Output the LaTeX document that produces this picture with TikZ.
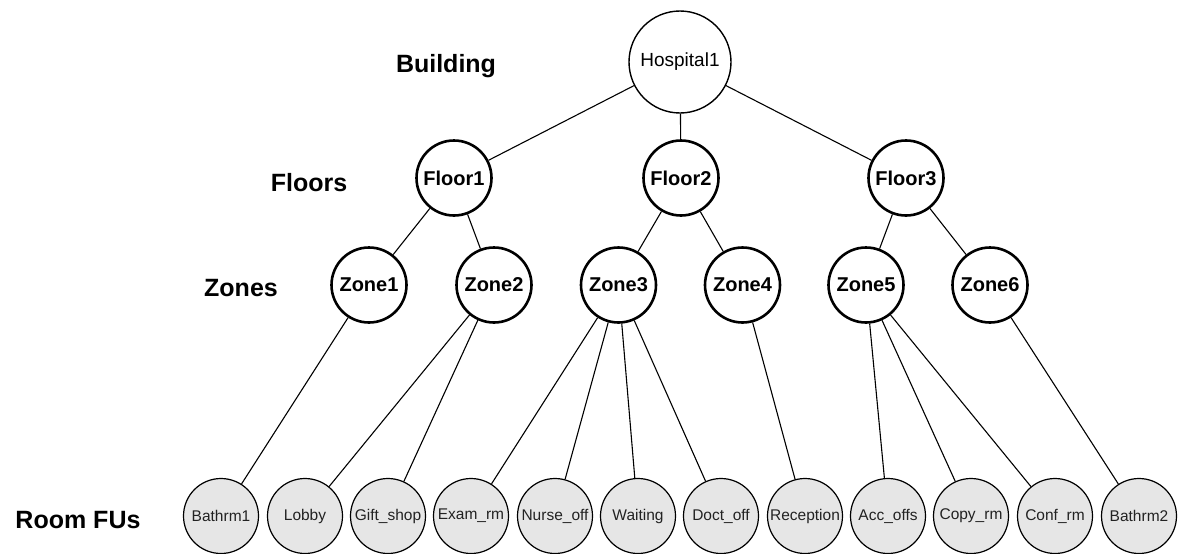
\documentclass[tikz,border=0pt]{standalone}
\usepackage{fontspec}
\setmainfont{Liberation Sans}
\definecolor{roomfill}{HTML}{E6E6E6}
\definecolor{roomtext}{HTML}{222222}
\begin{document}
\begin{tikzpicture}[x=1pt,y=-1pt,
  root/.style={circle,draw,line width=1.4pt,minimum size=102pt,inner sep=0pt,
    font=\fontsize{19}{22}\selectfont},
  mid/.style={circle,draw,line width=2.6pt,minimum size=75pt,inner sep=0pt,
    font=\fontsize{20}{24}\selectfont\bfseries},
  room/.style={circle,draw,line width=1.2pt,fill=roomfill,minimum size=75pt,inner sep=0pt,
    text=roomtext,font=\fontsize{15.5}{18}\selectfont},
  level/.style={font=\fontsize{25}{30}\selectfont\bfseries},
  link/.style={line width=1.1pt}]
\useasboundingbox (0,0) rectangle (1178,554);

% level captions
\node[level] (lb) at (446,66) {Building};
\node[level] (lf) at (309,183) {Floors};
\node[level] (lz) at (241,288) {Zones};
\node[level] (lr) at (78,520) {Room FUs};

% building
\node[root] (h) at (680,62) {Hospital1};

% floors
\node[mid] (f1) at (454,178) {Floor1};
\node[mid] (f2) at (681,178) {Floor2};
\node[mid] (f3) at (906,178) {Floor3};

% zones
\node[mid] (z1) at (369,285) {Zone1};
\node[mid] (z2) at (494,285) {Zone2};
\node[mid] (z3) at (618.5,285) {Zone3};
\node[mid] (z4) at (742.5,285) {Zone4};
\node[mid] (z5) at (866,285) {Zone5};
\node[mid] (z6) at (990,285) {Zone6};

% room functional units
\node[room] (r1)  at (221,516)  {Bathrm1};
\node[room] (r2)  at (305,516)  {Lobby};
\node[room] (r3)  at (388,516)  {Gift\_shop};
\node[room] (r4)  at (471,516)  {Exam\_rm};
\node[room] (r5)  at (555,516)  {Nurse\_off};
\node[room] (r6)  at (638,516)  {Waiting};
\node[room] (r7)  at (721,516)  {Doct\_off};
\node[room] (r8)  at (805,516)  {Reception};
\node[room] (r9)  at (888,516)  {Acc\_offs};
\node[room] (r10) at (971,516)  {Copy\_rm};
\node[room] (r11) at (1055,516) {Conf\_rm};
\node[room] (r12) at (1139,516) {Bathrm2};

% hierarchy links
\draw[link] (h) -- (f1);
\draw[link] (h) -- (f2);
\draw[link] (h) -- (f3);
\draw[link] (f1) -- (z1);
\draw[link] (f1) -- (z2);
\draw[link] (f2) -- (z3);
\draw[link] (f2) -- (z4);
\draw[link] (f3) -- (z5);
\draw[link] (f3) -- (z6);
\draw[link] (z1) -- (r1);
\draw[link] (z2) -- (r2);
\draw[link] (z2) -- (r3);
\draw[link] (z3) -- (r4);
\draw[link] (z3) -- (r5);
\draw[link] (z3) -- (r6);
\draw[link] (z3) -- (r7);
\draw[link] (z4) -- (r8);
\draw[link] (z5) -- (r9);
\draw[link] (z5) -- (r10);
\draw[link] (z5) -- (r11);
\draw[link] (z6) -- (r12);
\end{tikzpicture}
\end{document}
